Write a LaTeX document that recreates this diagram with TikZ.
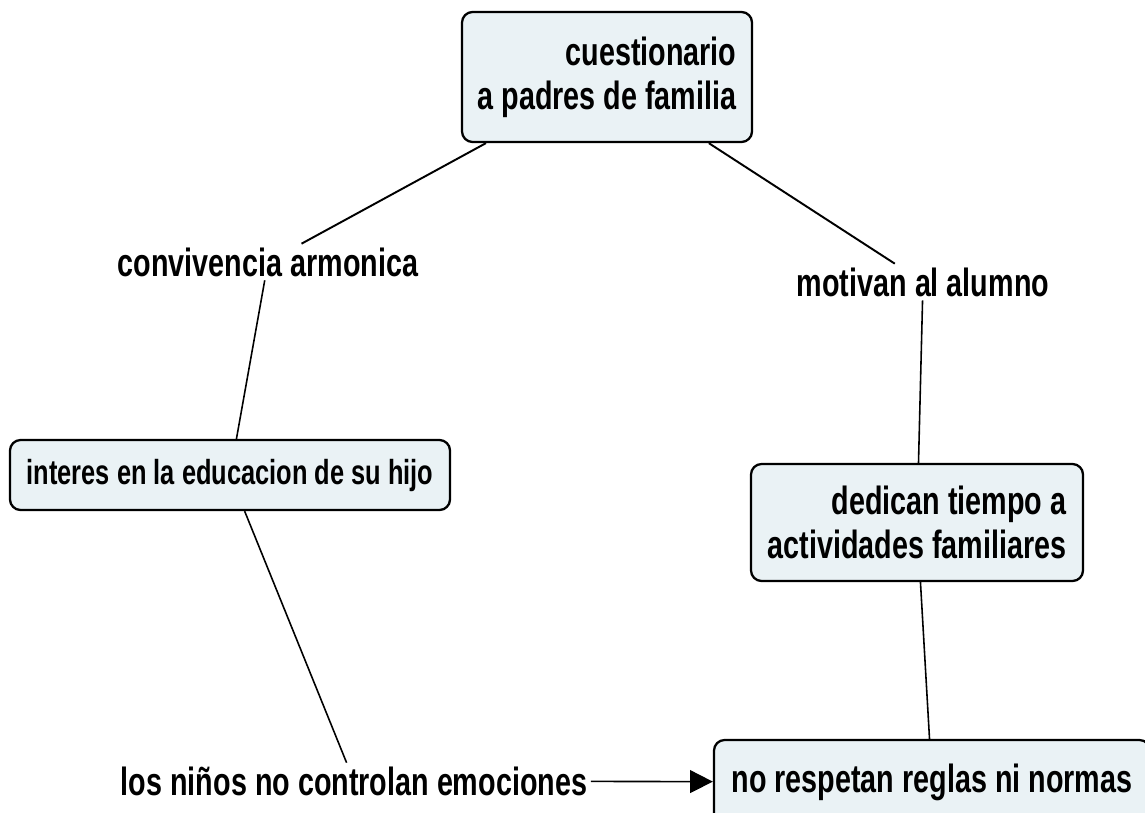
\documentclass[tikz,border=0pt]{standalone}
\usepackage{fontspec}
\setmainfont{Liberation Sans}[FakeStretch=0.73]
\usetikzlibrary{arrows.meta}
\definecolor{boxfill}{RGB}{234,242,245}

\begin{document}
\begin{tikzpicture}
					[concept/.style={rectangle,rounded corners=6pt,draw=black,line width=1.3pt,fill=boxfill,inner sep=0pt,font=\fontsize{22.4}{25}\selectfont\bfseries,align=right},
					linkword/.style={inner sep=2pt,font=\fontsize{22.4}{25}\selectfont\bfseries},
					link/.style={-,line width=0.9pt}]
					\useasboundingbox (0,0) rectangle (22.9,16.24);
					\node[concept,minimum width=5.8cm,minimum height=2.6cm] (cuest) at (12.14,14.70) {cuestionario\\a padres de familia};
					\node[linkword] (conv) at (5.36,11.0) {convivencia armonica};
					\node[linkword] (motiv) at (18.46,10.6) {motivan al alumno};
					\node[concept,minimum width=8.8cm,minimum height=1.4cm,font=\fontsize{19.8}{22}\selectfont\bfseries] (inter) at (4.6,6.74) {interes en la educacion de su hijo};
					\node[concept,minimum width=6.64cm,minimum height=2.34cm] (dedic) at (18.34,5.79) {dedican tiempo a\\actividades familiares};
					\node[concept,minimum width=8.72cm,minimum height=1.68cm] (resp) at (18.64,0.6) {no respetan reglas ni normas};
					\node[linkword] (ninos) at (7.08,0.62) {los niños no controlan emociones};
					\path (cuest) edge[link,line width=1.1pt] (conv);
					\path (cuest) edge[link,line width=1.1pt] (motiv);
					\path (conv) edge[link] (inter);
					\path (motiv) edge[link] (dedic);
					\path (inter) edge[link] (ninos);
					\path (dedic) edge[link] (resp);
					\path (ninos) edge[link,-{Triangle[length=13pt,width=13pt]}] (resp);
\end{tikzpicture}
\end{document}
